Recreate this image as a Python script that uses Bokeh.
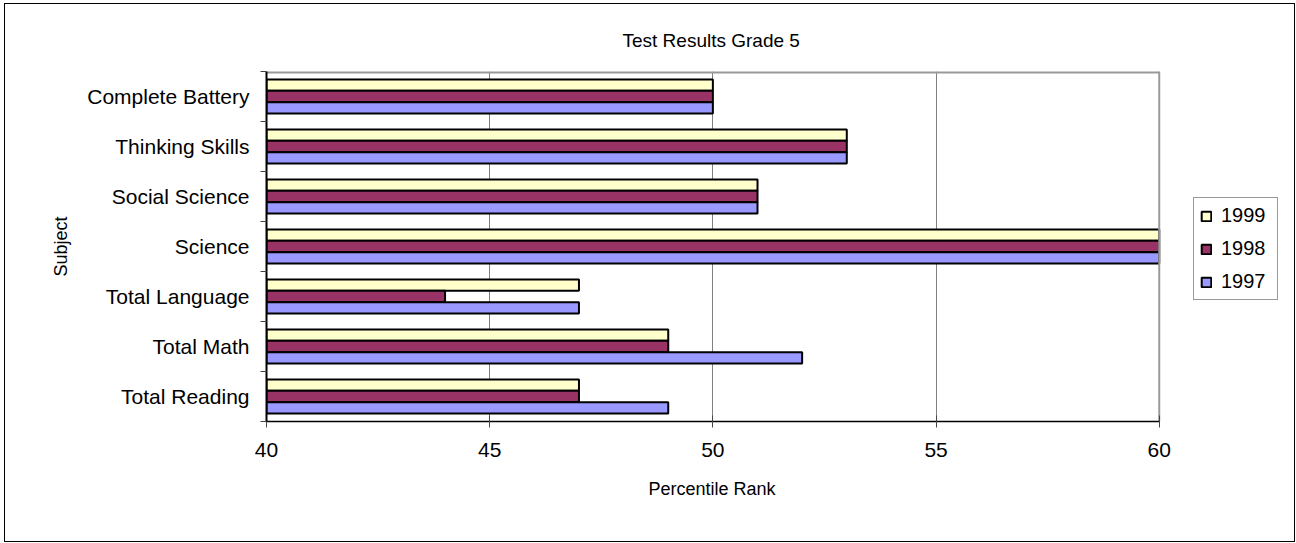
from bokeh.plotting import figure
from bokeh.models import Range1d, FixedTicker, Legend, LegendItem, Title
from bokeh.embed import file_html
from bokeh.resources import INLINE

categories = ["Total Reading", "Total Math", "Total Language", "Science",
              "Social Science", "Thinking Skills", "Complete Battery"]
years = ["1999", "1998", "1997"]
values_1999 = [47, 49, 47, 60, 51, 53, 50]
values_1998 = [47, 49, 44, 60, 51, 53, 50]
values_1997 = [49, 52, 47, 60, 51, 53, 50]
x_ticks = [40, 45, 50, 55, 60]
x_min, x_max = 40, 60

series = {"1999": values_1999, "1998": values_1998, "1997": values_1997}
colors = {"1999": "#FFFFCC", "1998": "#993366", "1997": "#9999FF"}
offsets = {"1999": 0.228, "1998": 0.0, "1997": -0.228}

FONT = "Liberation Sans"

# plot area (40..60) is 891px wide; the frame is widened to host the legend
AXIS_PX = 891
EXTRA_PX = 129
x_end = x_max + EXTRA_PX * (x_max - x_min) / AXIS_PX
n = len(categories)

p = figure(width=1291, height=539, output_backend="svg", toolbar_location=None,
           x_range=Range1d(x_min, x_end), y_range=Range1d(0, n),
           min_border_left=261, min_border_right=8, min_border_top=67,
           min_border_bottom=122, title="Test Results Grade 5")
p.styles = {"border": "1px solid #000000", "margin-left": "4px", "margin-top": "3px"}

p.title.align = "left"
p.title.offset = 356
p.title.text_font = FONT
p.title.text_font_size = "19px"
p.title.text_font_style = "normal"
p.title.text_color = "#000000"
p.title.standoff = 41

p.outline_line_color = None
p.background_fill_color = "#FFFFFF"

renderers = {}
for yr in years:
    ys = [i + 0.5 + offsets[yr] for i in range(n)]
    renderers[yr] = p.hbar(y=ys, left=x_min, right=series[yr], height=0.228,
                           fill_color=colors[yr], line_color="#000000", line_width=2)

# plot-area border (top and right), grey as in the reference
p.segment(x0=[x_min], y0=[n], x1=[x_max], y1=[n], line_color="#999999", line_width=4)
p.segment(x0=[x_max], y0=[0], x1=[x_max], y1=[n], line_color="#999999", line_width=2)

# x axis
p.xaxis.ticker = FixedTicker(ticks=x_ticks)
p.xaxis.bounds = (x_min, x_max)
p.xaxis.major_label_text_font = FONT
p.xaxis.major_label_text_font_size = "21px"
p.xaxis.major_label_text_color = "#000000"
p.xaxis.major_label_standoff = 15
p.xaxis.major_tick_in = 6
p.xaxis.major_tick_out = 6
p.xaxis.major_tick_line_color = "#444444"
p.xaxis.minor_tick_line_color = None
p.xaxis.axis_line_color = "#000000"
p.xaxis.axis_line_width = 1.5

# x axis title, centred under the 40..60 axis
x_title = Title(text="Percentile Rank", align="left", offset=382,
                text_font=FONT, text_font_size="18px", text_font_style="normal",
                text_color="#000000", standoff=35)
p.add_layout(x_title, "below")

# y axis
p.yaxis.ticker = FixedTicker(ticks=[i + 0.5 for i in range(n)],
                             minor_ticks=list(range(n + 1)))
p.yaxis.major_label_overrides = {i + 0.5: c for i, c in enumerate(categories)}
p.yaxis.major_tick_in = 0
p.yaxis.major_tick_out = 0
p.yaxis.minor_tick_in = 0
p.yaxis.minor_tick_out = 6
p.yaxis.minor_tick_line_color = "#444444"
p.yaxis.major_label_text_font = FONT
p.yaxis.major_label_text_font_size = "21px"
p.yaxis.major_label_text_color = "#000000"
p.yaxis.major_label_standoff = 11
p.yaxis.axis_label = "Subject"
p.yaxis.axis_label_text_font = FONT
p.yaxis.axis_label_text_font_size = "18px"
p.yaxis.axis_label_text_font_style = "normal"
p.yaxis.axis_label_text_color = "#000000"
p.yaxis.axis_label_standoff = 13
p.yaxis.axis_line_color = "#000000"
p.yaxis.axis_line_width = 2

p.ygrid.grid_line_color = None
p.xgrid.ticker = FixedTicker(ticks=x_ticks)
p.xgrid.grid_line_color = "#808080"
p.xgrid.grid_line_width = 1

legend = Legend(items=[LegendItem(label=yr, renderers=[renderers[yr]]) for yr in years],
                location=(927, 121), orientation="vertical",
                glyph_width=12, glyph_height=12, label_height=20, label_width=50,
                spacing=10, padding=6, margin=0, label_standoff=9,
                label_text_font=FONT, label_text_font_size="20px",
                label_text_color="#000000",
                border_line_color="#333333", border_line_width=1,
                background_fill_color="#FFFFFF", background_fill_alpha=1)
p.add_layout(legend, "center")

open("out.html", "w").write(file_html(p, INLINE))
